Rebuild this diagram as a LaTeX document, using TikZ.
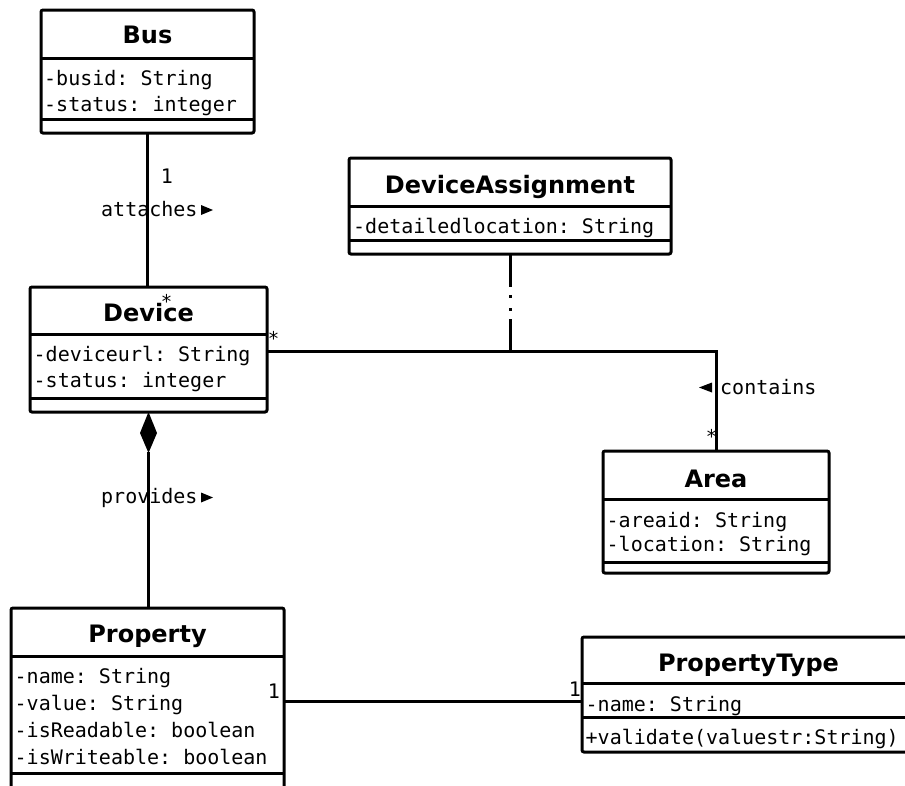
\documentclass[tikz,border=0pt]{standalone}
\usepackage{fontspec}
\setmainfont{DejaVu Sans}
\setmonofont{DejaVu Sans Mono}
\begin{document}
\begin{tikzpicture}[x=1pt,y=-1pt,
  cls/.style={draw, line width=3pt, rounded corners=2pt, inner sep=0pt, outer sep=0pt, anchor=north west},
  sepline/.style={line width=3pt},
  ttl/.style={font=\fontsize{24}{28}\selectfont\bfseries, anchor=base, inner sep=0pt},
  attr/.style={font=\fontsize{20}{24}\selectfont\ttfamily, anchor=base west, inner sep=0pt},
  mult/.style={font=\fontsize{20}{24}\selectfont\ttfamily, anchor=center, inner sep=0pt},
  star/.style={font=\fontsize{19}{22}\selectfont\ttfamily, anchor=center, inner sep=0pt},
  conn/.style={line width=3pt},
  tri/.style={fill=black}
]
\useasboundingbox (0,0) rectangle (905,785);
\clip (0,0) rectangle (905,785);

% ---------- Bus ----------
\node[cls, minimum width=213pt, minimum height=123pt] (bus) at (41,10) {};
\draw[sepline] (bus.west |- 0,58) -- (bus.east |- 0,58);
\draw[sepline] (bus.west |- 0,119) -- (bus.east |- 0,119);
\node[ttl] (busT) at (147.5,43) {Bus};
\node[attr] (busA1) at (44,85) {-busid: String};
\node[attr] (busA2) at (44,111.5) {-status: integer};

% ---------- Device ----------
\node[cls, minimum width=237pt, minimum height=125pt] (dev) at (30,287) {};
\draw[sepline] (dev.west |- 0,334) -- (dev.east |- 0,334);
\draw[sepline] (dev.west |- 0,398) -- (dev.east |- 0,398);
\node[ttl] (devT) at (148.5,321) {Device};
\node[attr] (devA1) at (33.5,361) {-deviceurl: String};
\node[attr] (devA2) at (33.5,387.5) {-status: integer};

% ---------- DeviceAssignment ----------
\node[cls, minimum width=322pt, minimum height=96pt] (da) at (349,158) {};
\draw[sepline] (da.west |- 0,206) -- (da.east |- 0,206);
\draw[sepline] (da.west |- 0,240) -- (da.east |- 0,240);
\node[ttl] (daT) at (510,193) {DeviceAssignment};
\node[attr] (daA1) at (353,233) {-detailedlocation: String};

% ---------- Area ----------
\node[cls, minimum width=226pt, minimum height=122pt] (area) at (603,451) {};
\draw[sepline] (area.west |- 0,499) -- (area.east |- 0,499);
\draw[sepline] (area.west |- 0,562) -- (area.east |- 0,562);
\node[ttl] (areaT) at (716,487) {Area};
\node[attr] (areaA1) at (606.5,527) {-areaid: String};
\node[attr] (areaA2) at (606.5,551) {-location: String};

% ---------- Property ----------
\node[cls, minimum width=273pt, minimum height=195pt] (prop) at (11,608) {};
\draw[sepline] (prop.west |- 0,656) -- (prop.east |- 0,656);
\draw[sepline] (prop.west |- 0,773) -- (prop.east |- 0,773);
\node[ttl] (propT) at (147.5,642) {Property};
\node[attr] (propA1) at (14.5,683) {-name: String};
\node[attr] (propA2) at (14.5,710) {-value: String};
\node[attr] (propA3) at (14.5,737) {-isReadable: boolean};
\node[attr] (propA4) at (14.5,764) {-isWriteable: boolean};

% ---------- PropertyType ----------
\node[cls, minimum width=333pt, minimum height=115pt] (pt) at (582,637) {};
\draw[sepline] (pt.west |- 0,683) -- (pt.east |- 0,683);
\draw[sepline] (pt.west |- 0,717) -- (pt.east |- 0,717);
\node[ttl] (ptT) at (748.5,671) {PropertyType};
\node[attr] (ptA1) at (585.5,711) {-name: String};
\node[attr] (ptO1) at (585.5,744) {+validate(valuestr:String)};

% ---------- Bus -- Device ----------
\draw[conn] (bus.south) -- (bus.south |- dev.north);
\node[mult] (m1) at (167,176) {1};
\node[attr] (attL) at (101,216) {attaches};
\fill[tri] (201,205) -- (213,210) -- (201,215) -- cycle;
\node[star] (s1) at (166.5,301) {*};

% ---------- Device -- Area ----------
\coordinate (hl) at (0,351);
\draw[conn] (dev.east |- hl) -- (area.north |- hl) -- (area.north);
\node[star] (s2) at (273.5,338) {*};
\node[star] (s3) at (711.5,436) {*};
\node[attr] (contL) at (720,394) {contains};
\fill[tri] (712,382.5) -- (699,387.5) -- (712,392.5) -- cycle;

% ---------- DeviceAssignment association class ----------
\draw[conn, dash pattern=on 33pt off 8pt on 3pt off 10pt on 3pt off 8pt] (da.south) -- (da.south |- hl);

% ---------- Device <>-- Property ----------
\fill (dev.south) -- ++(8.5,21) -- ++(-8.5,20) -- ++(-8.5,-20) -- cycle;
\coordinate (dmb) at ([yshift=-40pt]dev.south);
\draw[conn] (dmb) -- (dmb |- prop.north);
\node[attr] (provL) at (101,503) {provides};
\fill[tri] (201,492.5) -- (213,497.5) -- (201,502.5) -- cycle;

% ---------- Property -- PropertyType ----------
\coordinate (pl) at (0,701);
\draw[conn] (prop.east |- pl) -- (pt.west |- pl);
\node[mult] (m2) at (274,691) {1};
\node[mult] (m3) at (575,689) {1};
\end{tikzpicture}
\end{document}
